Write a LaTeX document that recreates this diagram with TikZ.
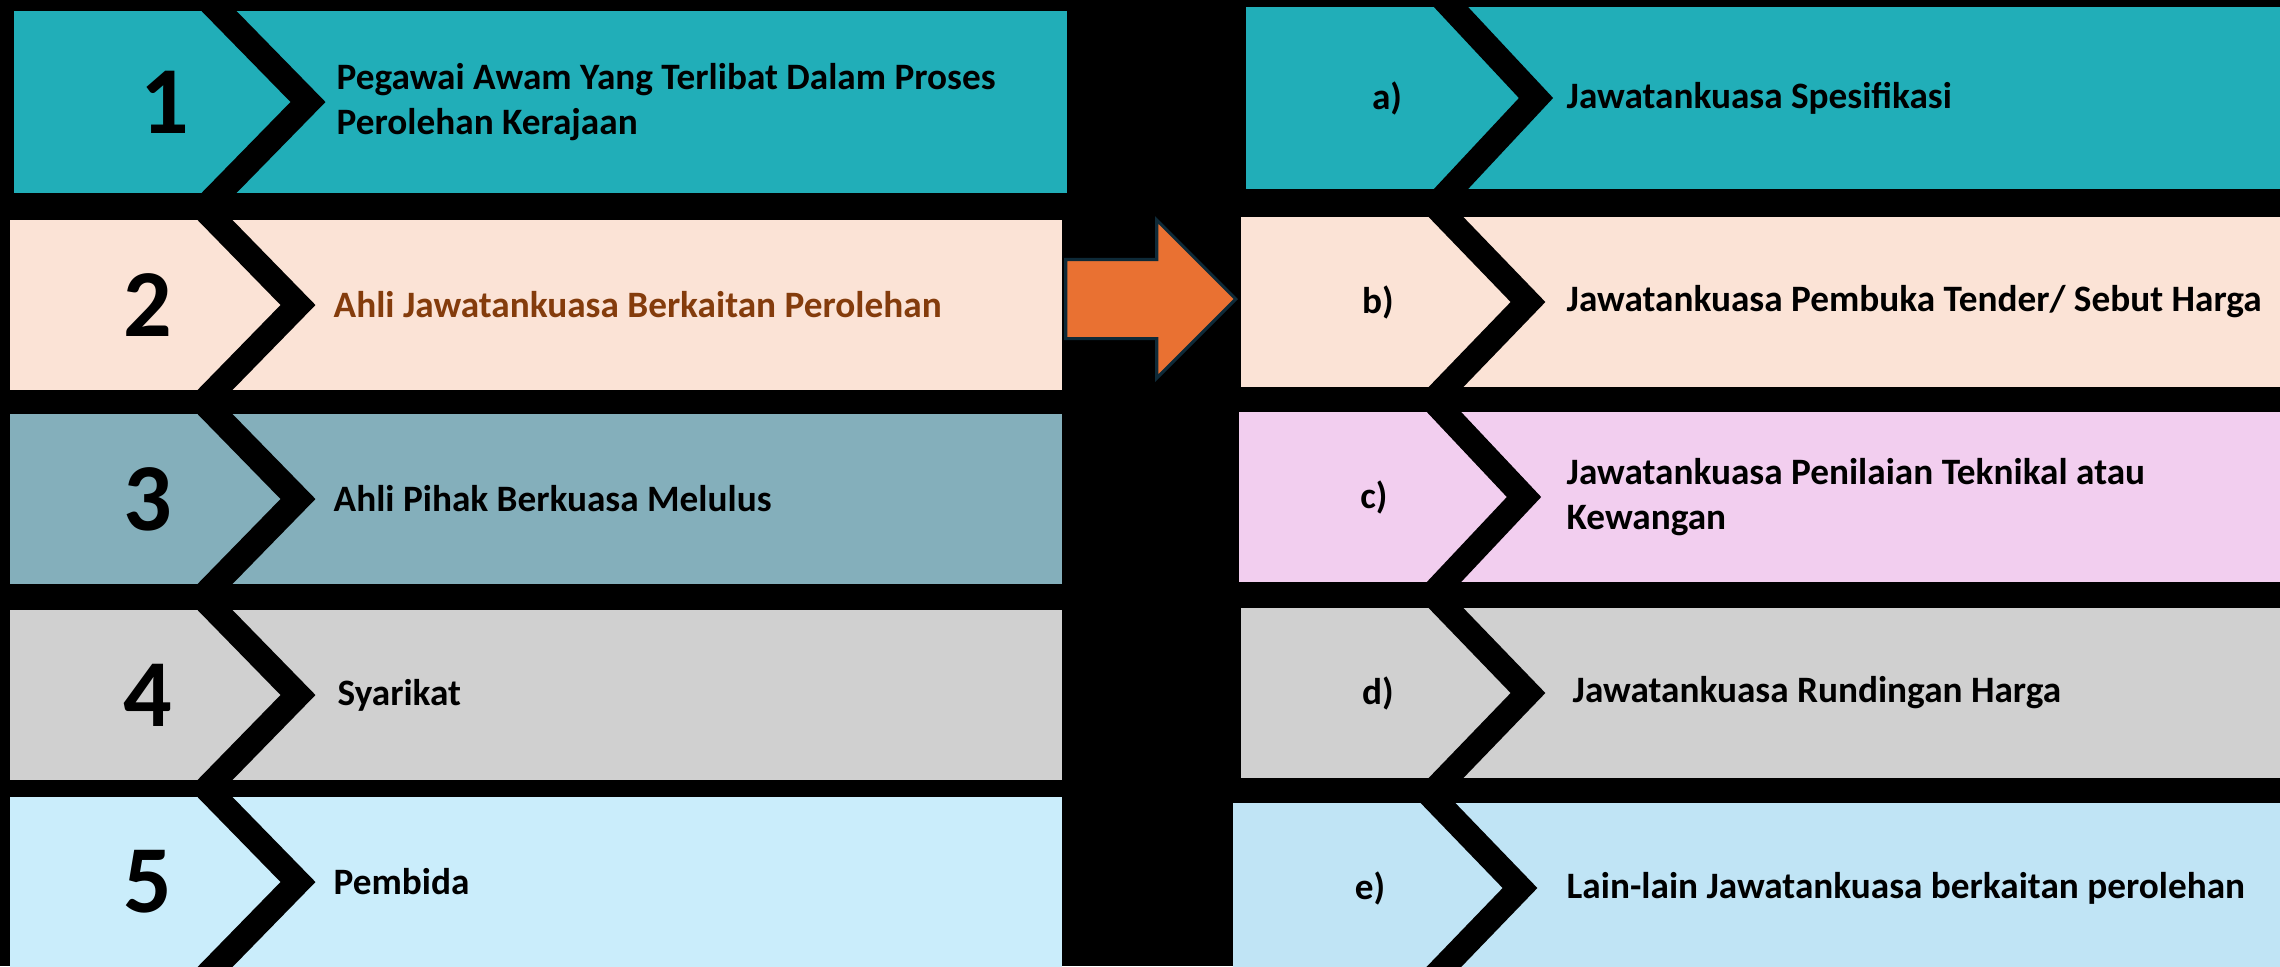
\documentclass[tikz,border=0pt]{standalone}
\usepackage{fontspec}
\setmainfont{Carlito}
\usetikzlibrary{positioning, shapes.arrows}
\usepackage{xcolor}

\definecolor{tealrow}{HTML}{21AEB8}
\definecolor{peachrow}{HTML}{FBE3D6}
\definecolor{slaterow}{HTML}{84AFBB}
\definecolor{greyrow}{HTML}{D0D0D0}
\definecolor{skyrow}{HTML}{CAEDFB}
\definecolor{icerow}{HTML}{C0E4F5}
\definecolor{pinkrow}{HTML}{F2CEEF}
\definecolor{brownText}{HTML}{843C0C}
\definecolor{arrowFill}{HTML}{E97132}
\definecolor{arrowEdge}{HTML}{0E2A38}

\begin{document}
\begin{tikzpicture}[
    row/.style={rectangle, minimum height=1.70cm, inner sep=0pt, outer sep=0pt},
    chev/.style={black, line width=0.25cm, shorten <=-1.5mm, shorten >=-1.5mm},
    num/.style={font=\fontsize{27.3}{30}\selectfont\bfseries},
    tag/.style={font=\fontsize{10.6}{12}\selectfont\bfseries},
    txt/.style={font=\fontsize{10.6}{12.9}\selectfont\bfseries, align=left, inner sep=0pt},
    bigarrow/.style={single arrow, draw=arrowEdge, fill=arrowFill, line width=0.9pt,
        minimum height=1.70cm, inner xsep=0pt, inner ysep=0.38cm, single arrow head extend=0.395cm}
]

% fundo
\useasboundingbox (0,0) rectangle (22.8,-9.66);
\fill[black] (0,0) rectangle (22.8,-9.66);

% coluna esquerda
\node[row, fill=tealrow, minimum width=10.53cm, minimum height=1.82cm, anchor=north west] (n1) at (0.14,-0.11) {};
\node[row, fill=peachrow, minimum width=10.52cm, below=0.27cm of n1, xshift=-0.045cm] (n2) {};
\node[row, fill=slaterow, minimum width=10.52cm, below=0.24cm of n2] (n3) {};
\node[row, fill=greyrow, minimum width=10.52cm, below=0.26cm of n3] (n4) {};
\node[row, fill=skyrow, minimum width=10.52cm, below=0.17cm of n4] (n5) {};

% coluna direita
\node[row, fill=tealrow, minimum width=10.34cm, minimum height=1.82cm, anchor=north east] (na) at (22.8,-0.07) {};
\node[row, fill=peachrow, minimum width=10.39cm, below=0.28cm of na.south east, anchor=north east] (nb) {};
\node[row, fill=pinkrow, minimum width=10.41cm, below=0.25cm of nb.south east, anchor=north east] (nc) {};
\node[row, fill=greyrow, minimum width=10.39cm, below=0.26cm of nc.south east, anchor=north east] (nd) {};
\node[row, fill=icerow, minimum width=10.47cm, below=0.25cm of nd.south east, anchor=north east] (ne) {};

% chevrons
\foreach \b/\t in {n1/2.94, n2/2.88, n3/2.88, n4/2.88, n5/2.88, na/2.90, nb/2.87, nc/2.85, nd/2.87, ne/2.87}
    \draw[chev] ([xshift=2.05cm]\b.north west) -- ([xshift=\t cm]\b.west) -- ([xshift=2.05cm]\b.south west);

% numeros e letras
\node[num] (l1) at ([xshift=1.51cm]n1.west) {1};
\node[num] (l2) at ([xshift=1.38cm]n2.west) {2};
\node[num] (l3) at ([xshift=1.38cm]n3.west) {3};
\node[num] (l4) at ([xshift=1.38cm]n4.west) {4};
\node[num] (l5) at ([xshift=1.38cm]n5.west) {5};
\node[tag] (la) at ([xshift=1.41cm]na.west) {a)};
\node[tag] (lb) at ([xshift=1.37cm]nb.west) {b)};
\node[tag] (lc) at ([xshift=1.35cm]nc.west) {c)};
\node[tag] (ld) at ([xshift=1.37cm]nd.west) {d)};
\node[tag] (le) at ([xshift=1.37cm]ne.west) {e)};

% textos
\node[txt, right=3.22cm of n1.west] (t1) {Pegawai Awam Yang Terlibat Dalam Proses\\Perolehan Kerajaan};
\node[txt, right=3.23cm of n2.west, text=brownText] (t2) {Ahli Jawatankuasa Berkaitan Perolehan};
\node[txt, right=3.23cm of n3.west] (t3) {Ahli Pihak Berkuasa Melulus};
\node[txt, right=3.27cm of n4.west] (t4) {Syarikat};
\node[txt, right=3.23cm of n5.west] (t5) {Pembida};
\node[txt, right=3.20cm of na.west] (ta) {Jawatankuasa Spesifikasi};
\node[txt, right=3.25cm of nb.west] (tb) {Jawatankuasa Pembuka Tender/ Sebut Harga};
\node[txt, right=3.27cm of nc.west] (tc) {Jawatankuasa Penilaian Teknikal atau\\Kewangan};
\node[txt, right=3.31cm of nd.west] (td) {Jawatankuasa Rundingan Harga};
\node[txt, right=3.33cm of ne.west] (te) {Lain-lain Jawatankuasa berkaitan perolehan};

% seta
\node[bigarrow, anchor=tip] (go) at ([xshift=-0.03cm, yshift=0.03cm]nb.west) {};

\end{tikzpicture}
\end{document}
